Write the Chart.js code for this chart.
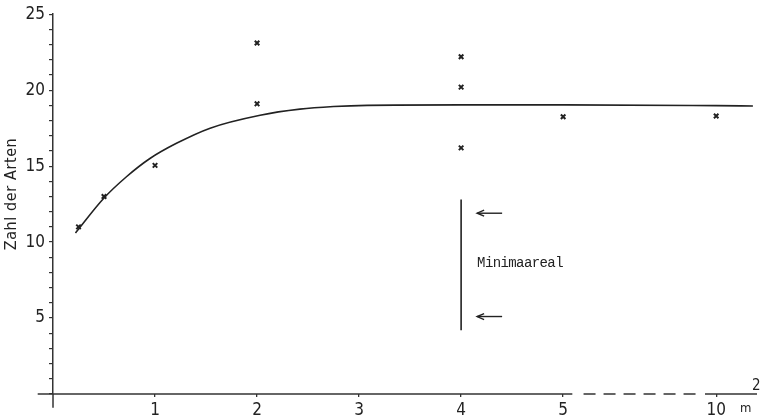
<!DOCTYPE html>
<html>
<head>
<meta charset="utf-8">
<script src="https://cdn.jsdelivr.net/npm/chart.js@4/dist/chart.umd.min.js"></script>
<style>
  html, body { margin: 0; padding: 0; background: #ffffff; }
  #wrap { width: 763px; height: 418px; }
</style>
</head>
<body>
<div id="wrap"><canvas id="c" width="763" height="418"></canvas></div>
<script>
// ---- data (areas in m², species counts) ----
const obsArea    = [0.25, 0.5, 1, 2, 2, 4, 4, 4, 5, 10];
const obsSpecies = [11.0, 13.0, 15.05, 23.1, 19.1, 22.2, 20.2, 16.2, 18.25, 18.3];

const curveArea    = [0.22, 0.5, 0.72, 0.95, 1.21, 1.54, 2.03, 2.42, 2.75, 3.08, 4, 5, 10, 11.2];
const curveSpecies = [10.6, 12.9, 14.3, 15.5, 16.5, 17.5, 18.35, 18.75, 18.92, 19.0, 19.03, 19.03, 18.98, 18.96];

// broken x axis: tick values (m²) and where they sit on the axis
const xTickValues    = [1, 2, 3, 4, 5, 10];
const xTickPositions = [1, 2, 3, 4, 5, 6.5];
const xTickLabels    = ['1', '2', '3', '4', '5', '10'];

const yTickLabels = ['5', '10', '15', '20', '25'];

// Minimaareal annotation (area, species range, arrow levels)
const minimaArea   = 4;
const minimaRange  = [4.2, 12.8];
const minimaArrows = [11.9, 5.1];
const minimaText   = 'Minimaareal';
const yTitle = 'Zahl der Arten';
const xUnit = 'm';

// map an area value onto the broken axis position
function axisPos(v) {
  const tv = [0].concat(xTickValues), tp = [0].concat(xTickPositions);
  for (let i = 1; i < tv.length; i++) {
    if (v <= tv[i]) return tp[i - 1] + (v - tv[i - 1]) * (tp[i] - tp[i - 1]) / (tv[i] - tv[i - 1]);
  }
  const n = tv.length - 1;
  return tp[n] + (v - tv[n]) * (tp[n] - tp[n - 1]) / (tv[n] - tv[n - 1]);
}

const NARROW = '"Liberation Sans Narrow", "DejaVu Sans Condensed", "DejaVu Sans", sans-serif';
const INK = '#222222';

const overlay = {
  id: 'overlay',
  afterDatasetsDraw(chart) {
    const ctx = chart.ctx, xs = chart.scales.x, ys = chart.scales.y;
    const X = v => xs.getPixelForValue(v), Y = v => ys.getPixelForValue(v);
    ctx.save();
    ctx.strokeStyle = '#333';
    ctx.lineWidth = 1.5;
    // x axis with break
    const y0 = Y(0);
    ctx.beginPath(); ctx.moveTo(X(-0.15), y0); ctx.lineTo(X(5.09), y0); ctx.stroke();
    ctx.setLineDash([12, 8]);
    ctx.beginPath(); ctx.moveTo(X(5.2), y0); ctx.lineTo(X(6.33), y0); ctx.stroke();
    ctx.setLineDash([]);
    ctx.beginPath(); ctx.moveTo(X(6.39), y0); ctx.lineTo(X(6.9), y0); ctx.stroke();
    // y axis extension below x axis
    ctx.beginPath(); ctx.moveTo(X(0), Y(0)); ctx.lineTo(X(0), Y(-0.9)); ctx.stroke();

    // Minimaareal bar
    const mx = X(axisPos(minimaArea));
    ctx.strokeStyle = INK;
    ctx.lineWidth = 1.6;
    ctx.beginPath(); ctx.moveTo(mx, Y(minimaRange[0])); ctx.lineTo(mx, Y(minimaRange[1])); ctx.stroke();
    // arrows
    ctx.lineWidth = 1.4;
    minimaArrows.forEach(v => {
      const ay = Y(v), x1 = mx + 16, x2 = mx + 41;
      ctx.beginPath(); ctx.moveTo(x2, ay); ctx.lineTo(x1, ay); ctx.stroke();
      ctx.beginPath(); ctx.moveTo(x1 + 7, ay - 3); ctx.lineTo(x1, ay); ctx.lineTo(x1 + 7, ay + 3); ctx.stroke();
    });
    // label
    ctx.fillStyle = INK;
    ctx.font = '14px "Liberation Mono", "DejaVu Sans Mono", monospace';
    try { ctx.letterSpacing = '-0.6px'; } catch (e) {}
    ctx.textAlign = 'left';
    ctx.textBaseline = 'middle';
    ctx.fillText(minimaText, mx + 16, Y(8.6));
    try { ctx.letterSpacing = '0px'; } catch (e) {}

    // y title
    ctx.save();
    ctx.translate(12, 194);
    ctx.rotate(-Math.PI / 2);
    ctx.font = '16px ' + NARROW;
    try { ctx.letterSpacing = '0.6px'; } catch (e) {}
    ctx.textAlign = 'center';
    ctx.textBaseline = 'middle';
    ctx.fillText(yTitle, 0, 0);
    ctx.restore();

    // unit m²
    ctx.font = '13px ' + NARROW;
    ctx.textAlign = 'left';
    ctx.textBaseline = 'alphabetic';
    ctx.fillText(xUnit, 740, 412);
    ctx.font = '15px ' + NARROW;
    ctx.fillText('2', 752, 390);
    ctx.restore();
  }
};

new Chart(document.getElementById('c'), {
  data: {
    datasets: [
      {
        type: 'line',
        data: curveArea.map((a, i) => ({ x: axisPos(a), y: curveSpecies[i] })),
        borderColor: INK,
        borderWidth: 1.6,
        pointRadius: 0,
        cubicInterpolationMode: 'monotone',
        fill: false
      },
      {
        type: 'scatter',
        data: obsArea.map((a, i) => ({ x: axisPos(a), y: obsSpecies[i] })),
        pointStyle: 'crossRot',
        pointRadius: 3.2,
        borderColor: INK,
        borderWidth: 2,
        backgroundColor: INK
      }
    ]
  },
  options: {
    responsive: false,
    animation: false,
    devicePixelRatio: 1,
    layout: { padding: { left: 0, right: 6, top: 13, bottom: 0 } },
    plugins: { legend: { display: false }, tooltip: { enabled: false } },
    scales: {
      x: {
        type: 'linear',
        min: 0,
        max: 6.9,
        border: { display: false },
        grid: { display: true, drawOnChartArea: false, drawTicks: true, tickLength: 3, color: '#333', lineWidth: 1.3 },
        afterBuildTicks: s => { s.ticks = xTickPositions.map(v => ({ value: v })); },
        afterFit: s => { s.height = 24; },
        ticks: {
          autoSkip: false,
          maxRotation: 0,
          padding: 3,
          color: INK,
          font: { family: NARROW, size: 17 },
          callback: (v, i) => xTickLabels[i]
        }
      },
      y: {
        type: 'linear',
        min: 0,
        max: 25,
        border: { display: true, color: '#333', width: 1.5 },
        grid: { display: true, drawOnChartArea: false, drawTicks: true, tickLength: 4, color: '#333', lineWidth: 1.2 },
        afterFit: s => { s.width = 53; },
        ticks: {
          stepSize: 1,
          autoSkip: false,
          padding: 4,
          color: INK,
          font: { family: NARROW, size: 17 },
          callback: v => (v % 5 === 0 && v !== 0) ? yTickLabels[v / 5 - 1] : ''
        }
      }
    }
  },
  plugins: [overlay]
});
</script>
</body>
</html>
